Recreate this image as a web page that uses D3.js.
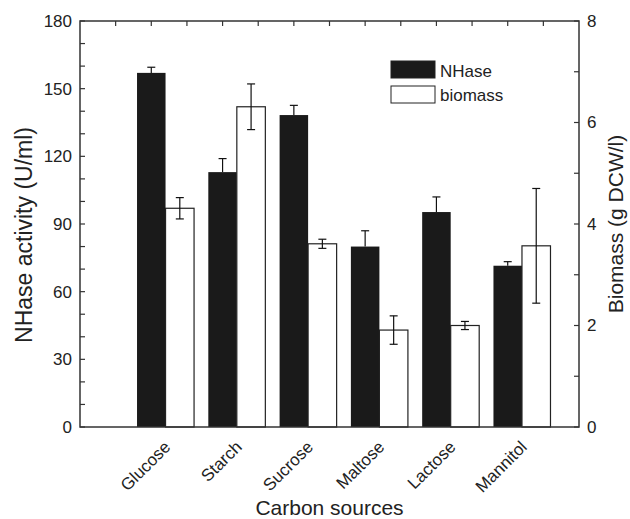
<!DOCTYPE html>
<html>
<head>
<meta charset="utf-8">
<script src="https://cdn.jsdelivr.net/npm/d3@7"></script>
<style>
  body { margin: 0; background: #fff; }
  text { font-family: "Liberation Sans", Arial, sans-serif; fill: #222; }
</style>
</head>
<body>
<svg id="chart" width="630" height="519"></svg>
<script>
//
//Chart data
//
var sources = ["Glucose", "Starch", "Sucrose", "Maltose", "Lactose", "Mannitol"];
var nhase = [157, 113, 138.3, 80, 95.3, 71.5];
var nhaseErr = [2.5, 6, 4.3, 7, 6.7, 1.8];
var biomass = [4.31, 6.31, 3.61, 1.91, 2.0, 3.57];
var biomassErr = [0.21, 0.45, 0.09, 0.28, 0.08, 1.13];
var leftTicks = [0, 30, 60, 90, 120, 150, 180];
var rightTicks = [0, 2, 4, 6, 8];

//
//Set up scales
//
var margin = {left: 80, right: 51, top: 21, bottom: 92};
var W = 630, H = 519;
var svg = d3.select("#chart");

var x = d3.scaleLinear().domain([0, 7]).range([margin.left, W - margin.right]);
var yL = d3.scaleLinear().domain([0, 180]).range([H - margin.bottom, margin.top]);
var yR = d3.scaleLinear().domain([0, 8]).range([H - margin.bottom, margin.top]);
var barW = 0.4;
var axisCol = "#333";

//Bars
sources.forEach(function(s, i) {
	var c = i + 1;
	svg.append("rect")
		.attr("x", x(c - barW / 2))
		.attr("y", yL(nhase[i]))
		.attr("width", x(c + barW / 2) - x(c - barW / 2))
		.attr("height", yL(0) - yL(nhase[i]))
		.attr("fill", "#1a1a1a");
	svg.append("rect")
		.attr("x", x(c + barW / 2))
		.attr("y", yR(biomass[i]))
		.attr("width", x(c + barW * 1.5) - x(c + barW / 2))
		.attr("height", yR(0) - yR(biomass[i]))
		.attr("fill", "#fff")
		.attr("stroke", "#222")
		.attr("stroke-width", 1.2);
});

//Error bars
function errBar(cx, top, bot, showBottom) {
	var cap = 4;
	svg.append("line").attr("x1", cx).attr("x2", cx).attr("y1", top).attr("y2", bot)
		.attr("stroke", "#111").attr("stroke-width", 1.2);
	svg.append("line").attr("x1", cx - cap).attr("x2", cx + cap).attr("y1", top).attr("y2", top)
		.attr("stroke", "#111").attr("stroke-width", 1.2);
	if (showBottom) {
		svg.append("line").attr("x1", cx - cap).attr("x2", cx + cap).attr("y1", bot).attr("y2", bot)
			.attr("stroke", "#111").attr("stroke-width", 1.2);
	}
}
sources.forEach(function(s, i) {
	var c = i + 1;
	errBar(x(c), yL(nhase[i] + nhaseErr[i]), yL(nhase[i]), false);
	errBar(x(c + barW), yR(biomass[i] + biomassErr[i]), yR(biomass[i] - biomassErr[i]), true);
});

//Frame
svg.append("rect")
	.attr("x", x(0)).attr("y", yL(180))
	.attr("width", x(7) - x(0)).attr("height", yL(0) - yL(180))
	.attr("fill", "none").attr("stroke", axisCol).attr("stroke-width", 1.5);

//Left axis
var gL = svg.append("g").attr("transform", "translate(" + x(0) + ",0)")
	.call(d3.axisLeft(yL).tickValues(leftTicks).tickSize(0).tickPadding(8));
gL.select(".domain").remove();
gL.selectAll("text").style("font-size", "17px").style("fill", "#222");
svg.selectAll(".tickL").data(d3.range(0, 181, 10)).enter().append("line")
	.attr("x1", x(0)).attr("x2", x(0) + 5)
	.attr("y1", function(d) { return yL(d); }).attr("y2", function(d) { return yL(d); })
	.attr("stroke", axisCol).attr("stroke-width", 1.2);

//Right axis
var gR = svg.append("g").attr("transform", "translate(" + x(7) + ",0)")
	.call(d3.axisRight(yR).tickValues(rightTicks).tickSize(0).tickPadding(8));
gR.select(".domain").remove();
gR.selectAll("text").style("font-size", "17px").style("fill", "#222");
svg.selectAll(".tickR").data(d3.range(0, 9, 1)).enter().append("line")
	.attr("x1", x(7) - 5).attr("x2", x(7))
	.attr("y1", function(d) { return yR(d); }).attr("y2", function(d) { return yR(d); })
	.attr("stroke", axisCol).attr("stroke-width", 1.2);

//Top ticks
svg.selectAll(".tickT").data(d3.range(0.5, 7, 0.5)).enter().append("line")
	.attr("x1", function(d) { return x(d); }).attr("x2", function(d) { return x(d); })
	.attr("y1", yL(180)).attr("y2", yL(180) + 5)
	.attr("stroke", axisCol).attr("stroke-width", 1.2);

//Category labels
sources.forEach(function(s, i) {
	var px = x(i + 1 + barW / 2) + 6, py = yL(0) + 21;
	svg.append("text")
		.attr("transform", "translate(" + px + "," + py + ") rotate(-45)")
		.attr("text-anchor", "end")
		.style("font-size", "17px")
		.text(s);
});

//Axis titles
svg.append("text")
	.attr("transform", "translate(32,235) rotate(-90)")
	.attr("text-anchor", "middle")
	.style("font-size", "23px")
	.text("NHase activity (U/ml)");
svg.append("text")
	.attr("transform", "translate(623,224) rotate(-90)")
	.attr("text-anchor", "middle")
	.style("font-size", "21px")
	.text("Biomass (g DCW/l)");
svg.append("text")
	.attr("x", (x(0) + x(7)) / 2).attr("y", 515)
	.attr("text-anchor", "middle")
	.style("font-size", "21px")
	.text("Carbon sources");

//Legend
var legend = [["NHase", "#1a1a1a"], ["biomass", "#fff"]];
legend.forEach(function(l, i) {
	svg.append("rect")
		.attr("x", 391).attr("y", 61 + i * 25)
		.attr("width", 44).attr("height", 17)
		.attr("fill", l[1]).attr("stroke", "#222").attr("stroke-width", 1);
	svg.append("text")
		.attr("x", 440).attr("y", 77 + i * 24)
		.style("font-size", "17px")
		.text(l[0]);
});
</script>
</body>
</html>
